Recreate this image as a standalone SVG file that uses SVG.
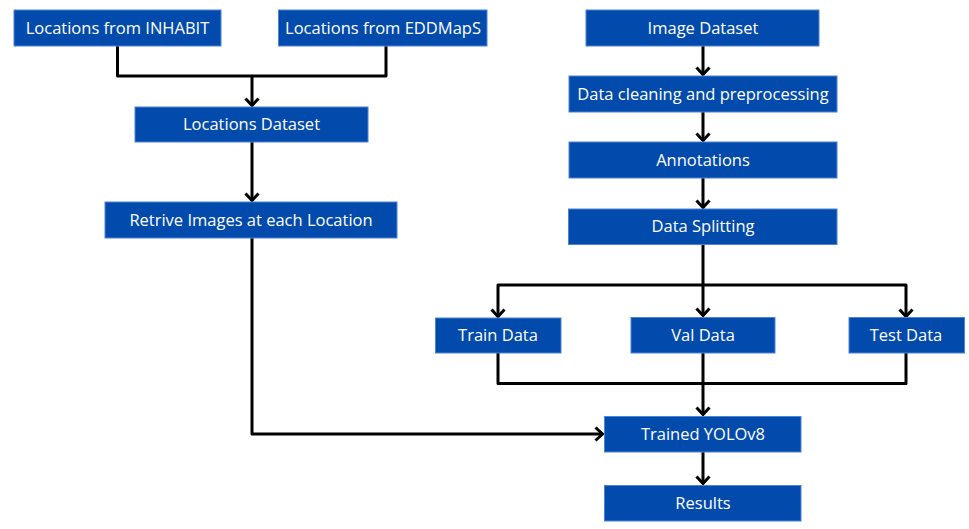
<svg xmlns="http://www.w3.org/2000/svg" width="969" height="529" viewBox="0 0 969 529">
<style>
.box{fill:#034aad;stroke:#4d82d6;stroke-width:1}
.lbl{fill:#ffffff;font-family:"Open Sans","Noto Sans","Liberation Sans",sans-serif;font-size:16.5px;text-anchor:middle}
.con{fill:none;stroke:#000;stroke-width:3;stroke-linejoin:round}
</style>
<defs>
<marker id="arr" markerUnits="userSpaceOnUse" markerWidth="20" markerHeight="20" viewBox="-10 -10 20 20" refX="0" refY="0" orient="auto" overflow="visible">
<path d="M-7,-6.5 L0,0 L-7,6.5" fill="none" stroke="#000" stroke-width="3" stroke-linejoin="miter"/>
</marker>
</defs>
<rect width="969" height="529" fill="#fff"/>
<g id="connectors">
<path class="con" d="M117.5,46 V76 H252 V105.5" marker-end="url(#arr)"/>
<path class="con" d="M386,46 V76 H252"/>
<path class="con" d="M252,142 V200.5" marker-end="url(#arr)"/>
<path class="con" d="M252,238 V434 H602.5" marker-end="url(#arr)"/>
<path class="con" d="M703,46 V74.5" marker-end="url(#arr)"/>
<path class="con" d="M703,112 V140.5" marker-end="url(#arr)"/>
<path class="con" d="M703,178 V207.5" marker-end="url(#arr)"/>
<path class="con" d="M703,244 V315.5" marker-end="url(#arr)"/>
<path class="con" d="M703,285 H498 V316.5" marker-end="url(#arr)"/>
<path class="con" d="M703,285 H906 V316.5" marker-end="url(#arr)"/>
<path class="con" d="M498,353 V383.5 H906 V353"/>
<path class="con" d="M703,353 V414.5" marker-end="url(#arr)"/>
<path class="con" d="M703,452 V483.5" marker-end="url(#arr)"/>
</g>
<g id="inhabit"><rect class="box" x="14" y="10" width="207" height="36"/><text class="lbl" x="117.5" y="33.5">Locations from INHABIT</text></g>
<g id="eddmaps"><rect class="box" x="278.5" y="10" width="208.5" height="36"/><text class="lbl" x="383" y="33.5">Locations from EDDMapS</text></g>
<g id="locations-dataset"><rect class="box" x="135" y="107" width="233" height="35"/><text class="lbl" x="251.5" y="130">Locations Dataset</text></g>
<g id="retrive"><rect class="box" x="105" y="202" width="292" height="36"/><text class="lbl" x="251" y="225.5">Retrive Images at each Location</text></g>
<g id="image-dataset"><rect class="box" x="586" y="10" width="233" height="36"/><text class="lbl" x="703" y="33.5">Image Dataset</text></g>
<g id="cleaning"><rect class="box" x="569" y="76" width="268" height="36"/><text class="lbl" x="703" y="99.5">Data cleaning and preprocessing</text></g>
<g id="annotations"><rect class="box" x="569" y="142" width="268" height="36"/><text class="lbl" x="703" y="165.5">Annotations</text></g>
<g id="splitting"><rect class="box" x="568.5" y="209" width="268.5" height="35.5"/><text class="lbl" x="703" y="232">Data Splitting</text></g>
<g id="train"><rect class="box" x="435.5" y="318" width="125.5" height="35"/><text class="lbl" x="498" y="341">Train Data</text></g>
<g id="val"><rect class="box" x="631" y="317.5" width="144" height="35.5"/><text class="lbl" x="703" y="341">Val Data</text></g>
<g id="test"><rect class="box" x="849" y="317.5" width="115.5" height="35.5"/><text class="lbl" x="906" y="341">Test Data</text></g>
<g id="yolo"><rect class="box" x="604.5" y="416.5" width="196.5" height="35.5"/><text class="lbl" x="703" y="440">Trained YOLOv8</text></g>
<g id="results"><rect class="box" x="604.5" y="485.5" width="196.5" height="35.5"/><text class="lbl" x="703" y="509">Results</text></g>
</svg>
